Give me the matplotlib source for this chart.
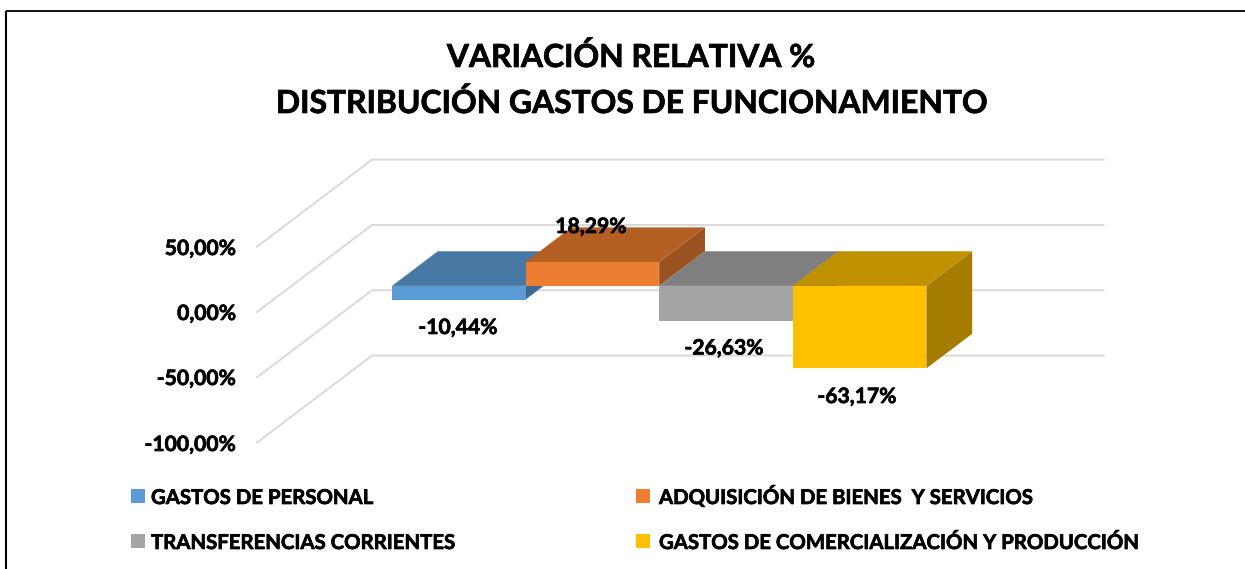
import matplotlib
matplotlib.use("Agg")
import matplotlib.pyplot as plt
import matplotlib.patheffects as pe
from matplotlib.patches import Polygon, Rectangle

plt.rcParams['font.family'] = ['Lato', 'Noto Sans', 'DejaVu Sans']

categories = ["GASTOS DE PERSONAL", "ADQUISICIÓN DE BIENES  Y SERVICIOS",
              "TRANSFERENCIAS CORRIENTES", "GASTOS DE COMERCIALIZACIÓN Y PRODUCCIÓN"]
values = [-10.44, 18.29, -26.63, -63.17]
value_labels = ["-10,44%", "18,29%", "-26,63%", "-63,17%"]
grid_values = [-100, -50, 0, 50]
tick_labels = ["-100,00%", "-50,00%", "0,00%", "50,00%"]
title_lines = ["VARIACIÓN RELATIVA %", "DISTRIBUCIÓN GASTOS DE FUNCIONAMIENTO"]

front_colors = ["#5B9BD5", "#ED7D31", "#A5A5A5", "#FFC000"]
top_colors = ["#4878A4", "#B45F24", "#7F7F7F", "#BF9000"]
side_colors = ["#3E6A91", "#9A5220", "#6E6E6E", "#A67C00"]

W, H = 1245, 569
PX_PER_PCT = 1.306   # vertical scale of the value axis
Y_ZERO = 312         # pixel row of 0% on the front plane
DEPTH_X = 115        # floor depth, px
DEPTH_Y = 87 / PX_PER_PCT

fig = plt.figure(figsize=(W / 100, H / 100), dpi=100)
ax = fig.add_axes([0, 0, 1, 1])
ax.set_xlim(0, W)
ax.set_ylim((Y_ZERO - H) / PX_PER_PCT, Y_ZERO / PX_PER_PCT)
ax.axis("off")

# Lato bold is lighter than the original face, thicken it a little
heavy = [pe.withStroke(linewidth=0.5, foreground="black")]


def px_y(row):
    return (Y_ZERO - row) / PX_PER_PCT


def project(x, val, depth):
    return (x + DEPTH_X * depth, val + DEPTH_Y * depth)


def bold_text(x, row, s, size, ha="center"):
    ax.text(x, px_y(row), s, ha=ha, va="baseline", fontsize=size, fontweight="bold",
            color="black", path_effects=heavy, zorder=5)


# outer frame
ax.plot([6, 6], [px_y(H), px_y(11)], color="black", lw=1.5, solid_capstyle="butt")
ax.plot([6, W], [px_y(11), px_y(11)], color="black", lw=1.3, solid_capstyle="butt")

# walls
for v in grid_values:
    ax.plot(*zip(project(257, v, 0), project(257, v, 1), project(988.5, v, 1)),
            color="#D9D9D9", lw=1.4, solid_joinstyle="miter", zorder=1)

# bars
d0, d1 = 0.30, 0.698
bar_left = 392 - DEPTH_X * d0
bar_w = 133.6
for i, v in enumerate(values):
    x0 = bar_left + bar_w * i
    x1 = x0 + bar_w
    hi = max(v, 0)
    lo = min(v, 0)
    side = [project(x1, hi, d0), project(x1, hi, d1), project(x1, lo, d1), project(x1, lo, d0)]
    top = [project(x0, hi, d0), project(x1, hi, d0), project(x1, hi, d1), project(x0, hi, d1)]
    front = [project(x0, hi, d0), project(x1, hi, d0), project(x1, lo, d0), project(x0, lo, d0)]
    ax.add_patch(Polygon(side, facecolor=side_colors[i], edgecolor="none", zorder=2))
    ax.add_patch(Polygon(top, facecolor=top_colors[i], edgecolor="none", zorder=2))
    ax.add_patch(Polygon(front, facecolor=front_colors[i], edgecolor="none", zorder=2))

# value labels
label_pos = [(458, 334), (591, 233), (724, 354.5), (857, 403)]
for (x, row), s in zip(label_pos, value_labels):
    bold_text(x, row, s, 15.2)

# axis labels
tick_rows = [451, 385, 320, 255]
for row, s in zip(tick_rows, tick_labels):
    bold_text(236, row, s, 15.2, ha="right")

# title
bold_text(630.5, 67, title_lines[0], 22.9)
bold_text(631, 113, title_lines[1], 22.9)

# legend
legend_pos = [(131, 504), (636, 504), (131, 549), (636, 549)]
for (x, row), name, c in zip(legend_pos, categories, front_colors):
    ax.add_patch(Rectangle((x, px_y(row - 1)), 14, 14 / PX_PER_PCT, facecolor=c, edgecolor="none"))
    bold_text(x + 20 if x < 300 else x + 23, row, name, 14.65, ha="left")

fig.savefig("out.png", dpi=100, facecolor="white")
